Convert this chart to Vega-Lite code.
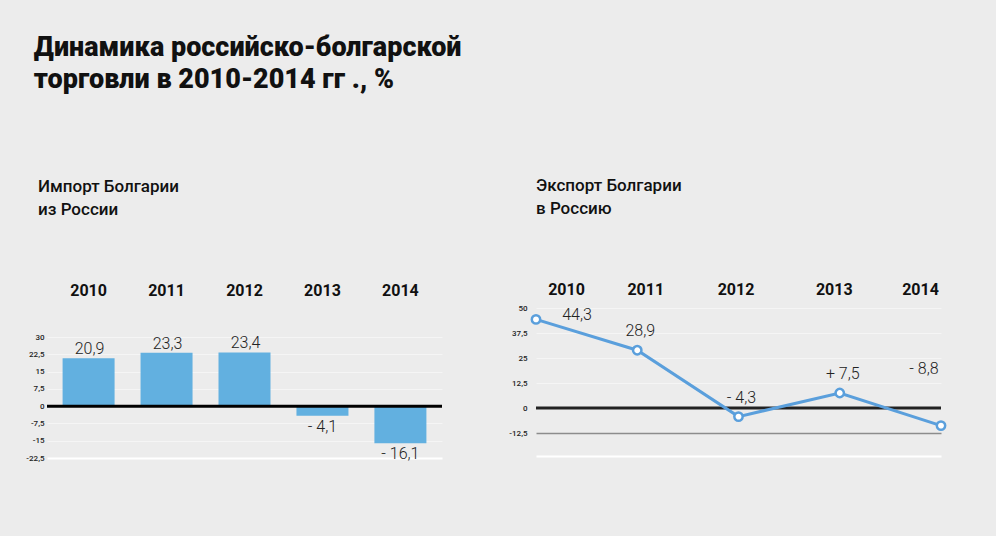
{
  "$schema": "https://vega.github.io/schema/vega-lite/v6.json",
  "background": "#ececec",
  "padding": {"left": 25, "top": 34, "right": 45, "bottom": 75},
  "title": {
    "text": ["Динамика российско-болгарской", "торговли в 2010-2014 гг ., %"],
    "anchor": "start",
    "font": "Roboto",
    "fontSize": 27,
    "fontWeight": 900,
    "lineHeight": 32,
    "color": "#111111",
    "dx": 8,
    "offset": 83
  },
  "spacing": 64,
  "hconcat": [
    {
      "width": 395,
      "height": 150,
      "title": {
        "text": ["Импорт Болгарии", "из России"],
        "anchor": "start",
        "frame": "group",
        "dx": -9,
        "offset": 63
      },
      "data": {
        "values": [
          {"year": "2010", "value": 20.9, "label": "20,9"},
          {"year": "2011", "value": 23.3, "label": "23,3"},
          {"year": "2012", "value": 23.4, "label": "23,4"},
          {"year": "2013", "value": -4.1, "label": "- 4,1"},
          {"year": "2014", "value": -16.1, "label": "- 16,1"}
        ]
      },
      "encoding": {
        "x": {
          "field": "year",
          "type": "nominal",
          "title": null,
          "scale": {"paddingInner": 0.333, "paddingOuter": 0.2},
          "axis": {
            "orient": "top",
            "labelAngle": 0,
            "labelPadding": 10,
            "labelFont": "Roboto",
            "labelFontSize": 16,
            "labelFontWeight": "bold",
            "labelColor": "#111111",
            "domain": false,
            "ticks": false
          }
        },
        "y": {
          "field": "value",
          "type": "quantitative",
          "title": null,
          "scale": {"domain": [-22.5, 42.7], "nice": false},
          "axis": {
            "values": [30, 22.5, 15, 7.5, 0, -7.5, -15, -22.5],
            "labelExpr": "replace(toString(datum.value), '.', ',')",
            "labelFont": "Roboto",
            "labelFontSize": 8,
            "labelFontWeight": 500,
            "labelColor": "#222222",
            "labelPadding": 3,
            "domain": false,
            "ticks": false,
            "gridColor": {
              "condition": {"test": "datum.value === -22.5", "value": "#ffffff"},
              "value": "#f5f5f5"
            },
            "gridWidth": {
              "condition": {"test": "datum.value === -22.5", "value": 2},
              "value": 1
            }
          }
        }
      },
      "layer": [
        {"mark": {"type": "bar", "color": "#62b0e0"}},
        {
          "transform": [{"filter": "datum.value > 0"}],
          "mark": {"type": "text", "baseline": "bottom", "dy": -1, "dx": 1, "font": "Roboto", "fontSize": 16, "fontWeight": 300, "color": "#222222"},
          "encoding": {"text": {"field": "label"}}
        },
        {
          "transform": [{"filter": "datum.value < 0"}],
          "mark": {"type": "text", "baseline": "top", "dy": 3, "font": "Roboto", "fontSize": 16, "fontWeight": 300, "color": "#222222"},
          "encoding": {"text": {"field": "label"}}
        },
        {
          "data": {"values": [{"zero": 0}]},
          "mark": {"type": "rule", "color": "#000000", "strokeWidth": 3},
          "encoding": {"y": {"field": "zero", "type": "quantitative"}, "x": null}
        }
      ]
    },
    {
      "width": 405,
      "height": 148,
      "title": {
        "text": ["Экспорт Болгарии", "в Россию"],
        "anchor": "start",
        "frame": "group",
        "dx": 0,
        "offset": 63
      },
      "data": {
        "values": [
          {"year": "2010", "value": 44.3, "label": "44,3"},
          {"year": "2011", "value": 28.9, "label": "28,9"},
          {"year": "2012", "value": -4.3, "label": "- 4,3"},
          {"year": "2013", "value": 7.5, "label": "+ 7,5"},
          {"year": "2014", "value": -8.8, "label": "- 8,8"}
        ]
      },
      "encoding": {
        "x": {
          "field": "year",
          "type": "nominal",
          "title": null,
          "scale": {"type": "point", "padding": 0},
          "axis": {
            "orient": "top",
            "labelAngle": 0,
            "labelPadding": 11,
            "labelFont": "Roboto",
            "labelFontSize": 16,
            "labelFontWeight": "bold",
            "labelColor": "#111111",
            "labelOffset": {
              "condition": [
                {"test": "datum.value === '2010'", "value": 30},
                {"test": "datum.value === '2011'", "value": 8},
                {"test": "datum.value === '2012'", "value": -3},
                {"test": "datum.value === '2013'", "value": -6}
              ],
              "value": -21
            },
            "domain": false,
            "ticks": false
          }
        },
        "y": {
          "field": "value",
          "type": "quantitative",
          "title": null,
          "scale": {"domain": [-24, 50], "nice": false},
          "axis": {
            "values": [50, 37.5, 25, 12.5, 0, -12.5, -24],
            "labelExpr": "datum.value < -20 ? '' : replace(toString(datum.value), '.', ',')",
            "labelFont": "Roboto",
            "labelFontSize": 8,
            "labelFontWeight": 500,
            "labelColor": "#222222",
            "labelPadding": 9,
            "domain": false,
            "ticks": false,
            "gridColor": {
              "condition": [
                {"test": "datum.value === -12.5", "value": "#8c8c8c"},
                {"test": "datum.value === -24", "value": "#ffffff"}
              ],
              "value": "#f5f5f5"
            },
            "gridWidth": {
              "condition": [
                {"test": "datum.value === -12.5", "value": 1.5},
                {"test": "datum.value === -24", "value": 2}
              ],
              "value": 1
            }
          }
        }
      },
      "layer": [
        {
          "data": {"values": [{"zero": 0}]},
          "mark": {"type": "rule", "color": "#222222", "strokeWidth": 3},
          "encoding": {"y": {"field": "zero", "type": "quantitative"}, "x": null}
        },
        {"mark": {"type": "line", "color": "#5a9fdc", "strokeWidth": 3}},
        {
          "mark": {"type": "point", "filled": true, "fill": "#ffffff", "stroke": "#5a9fdc", "strokeWidth": 2.5, "size": 70, "opacity": 1}
        },
        {
          "transform": [{"filter": "datum.year === '2010'"}],
          "mark": {"type": "text", "baseline": "middle", "dx": 41, "dy": -4, "font": "Roboto", "fontSize": 16, "fontWeight": 300, "color": "#222222"},
          "encoding": {"text": {"field": "label"}}
        },
        {
          "transform": [{"filter": "datum.year === '2011' || datum.year === '2012' || datum.year === '2013'"}],
          "mark": {"type": "text", "baseline": "middle", "dx": 3, "dy": -19, "font": "Roboto", "fontSize": 16, "fontWeight": 300, "color": "#222222"},
          "encoding": {"text": {"field": "label"}}
        },
        {
          "transform": [{"filter": "datum.year === '2014'"}],
          "mark": {"type": "text", "baseline": "middle", "dx": -17, "dy": -57, "font": "Roboto", "fontSize": 16, "fontWeight": 300, "color": "#222222"},
          "encoding": {"text": {"field": "label"}}
        }
      ]
    }
  ],
  "config": {
    "view": {"stroke": null},
    "title": {
      "font": "Roboto",
      "fontSize": 17,
      "fontWeight": 500,
      "lineHeight": 23,
      "color": "#111111"
    }
  }
}
